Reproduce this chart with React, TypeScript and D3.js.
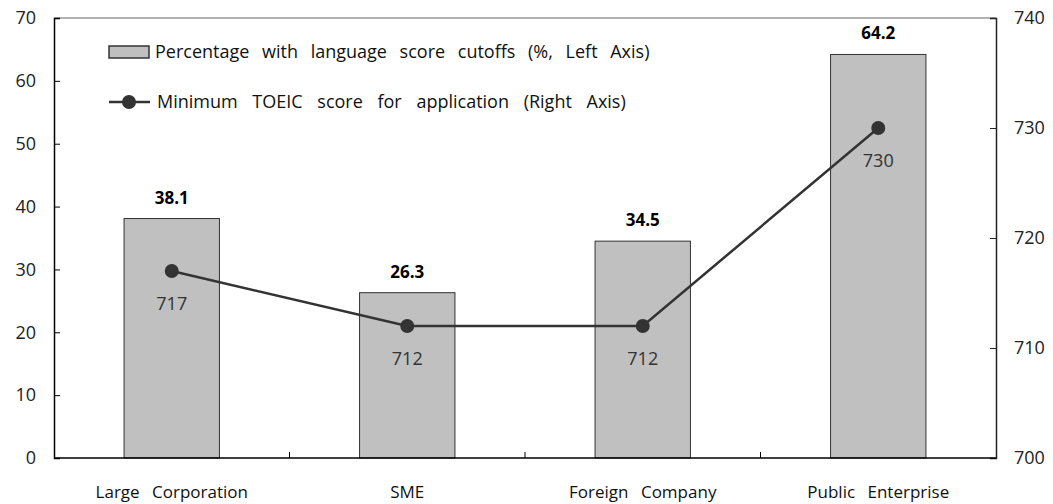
import React, { useEffect, useRef } from 'react';
import * as d3 from 'd3';

const categories = ['Large Corporation', 'SME', 'Foreign Company', 'Public Enterprise'];
const percentValues = [38.1, 26.3, 34.5, 64.2];
const toeicValues = [717, 712, 712, 730];
const leftTicks = [0, 10, 20, 30, 40, 50, 60, 70];
const rightTicks = [700, 710, 720, 730, 740];
const barLegend = 'Percentage with language score cutoffs (%, Left Axis)';
const lineLegend = 'Minimum TOEIC score for application (Right Axis)';

export default function App() {
  const svgRef = useRef<SVGSVGElement>(null);

  useEffect(() => {
    if (!svgRef.current) return;
    const svg = d3.select(svgRef.current);
    svg.selectAll('*').remove();

    const left = 54, right = 996, top = 18, bottom = 458;
    const font = '"Open Sans", "Noto Sans", sans-serif';

    const x = d3.scaleBand<string>().domain(categories).range([left, right]);
    const yL = d3.scaleLinear().domain([0, 70]).range([bottom, top]);
    const yR = d3.scaleLinear().domain([700, 740]).range([bottom, top]);

    const barW = x.bandwidth() * 0.405;

    // top border
    svg.append('line')
      .attr('x1', left).attr('x2', right).attr('y1', top).attr('y2', top)
      .attr('stroke', '#999').attr('stroke-width', 1.5);

    // bars
    svg.selectAll('.bar')
      .data(categories)
      .enter().append('rect')
      .attr('x', (d) => x(d)! + x.bandwidth() / 2 - barW / 2)
      .attr('y', (d, i) => yL(percentValues[i]))
      .attr('width', barW)
      .attr('height', (d, i) => bottom - yL(percentValues[i]))
      .attr('fill', '#c0c0c0')
      .attr('stroke', '#333')
      .attr('stroke-width', 1);

    // left axis
    const gl = svg.append('g').attr('transform', `translate(${left},0)`)
      .call(d3.axisLeft(yL).tickValues(leftTicks).tickSize(-6).tickPadding(18));
    gl.select('.domain').attr('stroke', '#000').attr('stroke-width', 1.5);
    gl.selectAll('.tick line').attr('stroke', '#000');
    gl.selectAll('.tick text').attr('font-size', 18).attr('font-family', font).attr('fill', '#222');

    // right axis
    const gr = svg.append('g').attr('transform', `translate(${right},0)`)
      .call(d3.axisRight(yR).tickValues(rightTicks).tickSize(-6).tickPadding(18));
    gr.select('.domain').attr('stroke', '#222').attr('stroke-width', 1.5);
    gr.selectAll('.tick line').attr('stroke', '#222');
    gr.selectAll('.tick text').attr('font-size', 18).attr('font-family', font).attr('fill', '#222');

    // bottom axis
    svg.append('line')
      .attr('x1', left).attr('x2', right).attr('y1', bottom).attr('y2', bottom)
      .attr('stroke', '#000').attr('stroke-width', 1.5);
    svg.selectAll('.sep')
      .data(categories.slice(1))
      .enter().append('line')
      .attr('x1', (d) => x(d)!).attr('x2', (d) => x(d)!)
      .attr('y1', bottom).attr('y2', bottom - 6)
      .attr('stroke', '#000');
    svg.selectAll('.cat')
      .data(categories)
      .enter().append('text')
      .attr('x', (d) => x(d)! + x.bandwidth() / 2)
      .attr('y', 498)
      .attr('text-anchor', 'middle')
      .attr('font-size', 17)
      .attr('font-family', font)
      .attr('word-spacing', 8)
      .attr('fill', '#111')
      .text((d) => d);

    // bar value labels
    svg.selectAll('.val')
      .data(categories)
      .enter().append('text')
      .attr('x', (d) => x(d)! + x.bandwidth() / 2)
      .attr('y', (d, i) => yL(percentValues[i]) - 15)
      .attr('text-anchor', 'middle')
      .attr('font-size', 17)
      .attr('font-weight', 'bold')
      .attr('font-family', font)
      .attr('fill', '#000')
      .text((d, i) => percentValues[i].toFixed(1));

    // line
    const line = d3.line<number>()
      .x((d, i) => x(categories[i])! + x.bandwidth() / 2)
      .y((d) => yR(d));
    svg.append('path')
      .datum(toeicValues)
      .attr('d', line)
      .attr('fill', 'none')
      .attr('stroke', '#333')
      .attr('stroke-width', 2.5);
    svg.selectAll('.dot')
      .data(toeicValues)
      .enter().append('circle')
      .attr('cx', (d, i) => x(categories[i])! + x.bandwidth() / 2)
      .attr('cy', (d) => yR(d))
      .attr('r', 7)
      .attr('fill', '#333');
    svg.selectAll('.lval')
      .data(toeicValues)
      .enter().append('text')
      .attr('x', (d, i) => x(categories[i])! + x.bandwidth() / 2)
      .attr('y', (d) => yR(d) + 39)
      .attr('text-anchor', 'middle')
      .attr('font-size', 18)
      .attr('font-family', font)
      .attr('fill', '#333')
      .text((d) => d);

    // legend
    const lg = svg.append('g');
    lg.append('rect')
      .attr('x', 109).attr('y', 46).attr('width', 40).attr('height', 12)
      .attr('fill', '#c0c0c0').attr('stroke', '#333').attr('stroke-width', 1.5);
    lg.append('text')
      .attr('x', 155).attr('y', 58)
      .attr('font-size', 18).attr('font-family', font).attr('fill', '#111')
      .attr('word-spacing', 8)
      .text(barLegend);
    lg.append('line')
      .attr('x1', 109).attr('x2', 150).attr('y1', 102).attr('y2', 102)
      .attr('stroke', '#333').attr('stroke-width', 2.5);
    lg.append('circle').attr('cx', 129).attr('cy', 102).attr('r', 7).attr('fill', '#333');
    lg.append('text')
      .attr('x', 157).attr('y', 108)
      .attr('font-size', 18).attr('font-family', font).attr('fill', '#111')
      .attr('word-spacing', 10)
      .text(lineLegend);
  }, []);

  return <svg ref={svgRef} width={1053} height={504} style={{ display: 'block', position: 'absolute', left: 0, top: 0 }} />;
}
